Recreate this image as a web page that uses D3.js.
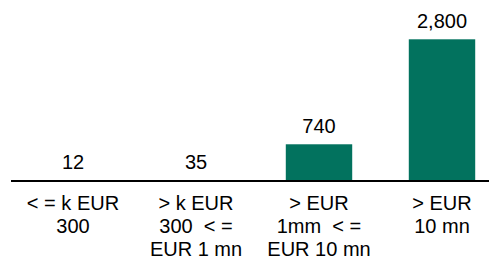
<!DOCTYPE html>
<html>
<head>
<meta charset="utf-8">
<script src="https://cdn.jsdelivr.net/npm/d3@7"></script>
<style>
  body { margin: 0; background: #fff; }
  text { font-family: "Liberation Sans", Arial, sans-serif; fill: #000; }
</style>
</head>
<body>
<div id="chart"></div>
<script>
// Data
const categories = ["c1", "c2", "c3", "c4"];
const values = [12, 35, 740, 2800];
const valueLabels = ["12", "35", "740", "2,800"];
const categoryLabels = [
    ["< = k EUR", "300"],
    ["> k EUR", "300  < =", "EUR 1 mn"],
    ["> EUR", "1mm  < =", "EUR 10 mn"],
    ["> EUR", "10 mn"]
];

const width = 489;
const height = 261;
const baseline = 182;

const svg = d3.select("#chart")
    .append("svg")
    .attr("width", width)
    .attr("height", height);

// Scales
const xScale = d3.scaleBand()
    .domain(categories)
    .range([11.5, 503.5])
    .paddingInner(0.46)
    .paddingOuter(0.23);

const yScale = d3.scaleLinear()
    .domain([0, 2800])
    .range([baseline, 39.3]);

// Bars
svg.selectAll("rect.bar")
    .data(values)
    .enter()
    .append("rect")
    .attr("class", "bar")
    .attr("x", (d, i) => xScale(categories[i]))
    .attr("y", (d) => yScale(d))
    .attr("width", xScale.bandwidth())
    .attr("height", (d) => baseline - yScale(d))
    .style("fill", "#02725e");

// Value labels
svg.selectAll("text.val")
    .data(values)
    .enter()
    .append("text")
    .attr("class", "val")
    .attr("x", (d, i) => xScale(categories[i]) + xScale.bandwidth() / 2)
    .attr("y", (d) => Math.min(yScale(d), 180) - 11.5)
    .attr("text-anchor", "middle")
    .style("font-size", "20px")
    .text((d, i) => valueLabels[i]);

// Axis line
svg.append("line")
    .attr("x1", 11)
    .attr("x2", width)
    .attr("y1", 181)
    .attr("y2", 181)
    .style("stroke", "#000")
    .style("stroke-width", 2.2);

// Category labels
const cats = svg.selectAll("text.cat")
    .data(categoryLabels)
    .enter()
    .append("text")
    .attr("class", "cat")
    .attr("text-anchor", "middle")
    .attr("xml:space", "preserve")
    .style("font-size", "20px")
    .style("white-space", "pre");

cats.each(function (lines, i) {
    const cx = xScale(categories[i]) + xScale.bandwidth() / 2;
    d3.select(this).selectAll("tspan")
        .data(lines)
        .enter()
        .append("tspan")
        .attr("x", cx)
        .attr("y", (d, j) => 210 + j * 22.75)
        .text((d) => d);
});
</script>
</body>
</html>
